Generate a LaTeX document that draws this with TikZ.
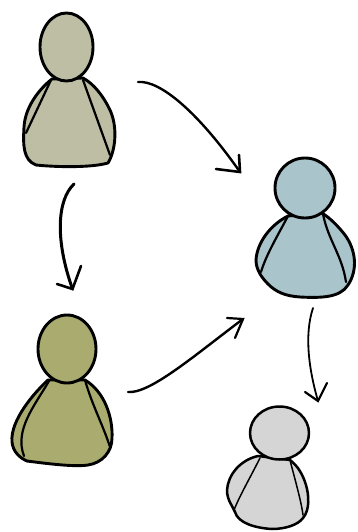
\documentclass[tikz,border=0pt]{standalone}
\usetikzlibrary{shapes.geometric}
\definecolor{pA}{HTML}{BDBEA4}
\definecolor{pB}{HTML}{A9AC6E}
\definecolor{pC}{HTML}{A9C5CB}
\definecolor{pD}{HTML}{D5D5D5}
\tikzset{
  outline/.style={draw=black,line width=2.9pt,line join=round,line cap=round},
  inner/.style={draw=black,line width=2.2pt,line cap=round},
  head/.style={ellipse,outline,inner sep=0pt,minimum width=#1},
  conn/.style={draw=black,line width=2.4pt,line cap=round,line join=round},
  barb/.style={draw=black,line width=2.6pt,line cap=round,line join=miter}
}
\begin{document}
\begin{tikzpicture}[x=1pt,y=-1pt]
\useasboundingbox (0,0) rectangle (357,532);
% person A
\draw[outline,fill=pA] (52,79) .. controls (38,90) and (25,108) .. (24,127)
  .. controls (23,145) and (23,160) .. (36,165)
  .. controls (55,167) and (90,168) .. (108,163)
  .. controls (116,150) and (118,125) .. (109,108)
  .. controls (103,96) and (94,84) .. (83,78) -- cycle;
\draw[inner] (51,80) -- (26,133);
\draw[inner] (83,80) -- (110,155);
\node[head=53pt,minimum height=68pt,fill=pA] (headA) at (66.5,47) {};
% person B
\draw[outline,fill=pB] (48,380) .. controls (35,392) and (10,420) .. (12,442)
  .. controls (13,452) and (20,458) .. (27,461)
  .. controls (50,464) and (75,467) .. (88,465)
  .. controls (102,463) and (112,452) .. (112,438)
  .. controls (113,418) and (105,392) .. (85,380) -- cycle;
\draw[inner] (49,381) .. controls (35,405) and (14,430) .. (24,456);
\draw[inner] (85,380) .. controls (92,405) and (103,425) .. (110,447);
\node[head=58pt,minimum height=68pt,fill=pB] (headB) at (67,349) {};
% person C
\draw[outline,fill=pC] (288,216) .. controls (270,225) and (257,243) .. (256,260)
  .. controls (256,270) and (262,278) .. (268,284)
  .. controls (276,292) and (285,296) .. (300,297)
  .. controls (320,298) and (340,298) .. (348,285)
  .. controls (358,270) and (356,250) .. (345,235)
  .. controls (338,226) and (330,218) .. (322,213) -- cycle;
\draw[inner] (288,216) .. controls (278,235) and (266,255) .. (261,272);
\draw[inner] (323,214) .. controls (328,240) and (342,255) .. (346,282);
\node[head=60pt,minimum height=60pt,fill=pC] (headC) at (305,188) {};
% person D
\draw[outline,line width=2.5pt,fill=pD] (258,456) .. controls (240,460) and (228,475) .. (227,490)
  .. controls (227,500) and (232,505) .. (235,512)
  .. controls (238,523) and (255,528) .. (272,529)
  .. controls (285,529) and (298,525) .. (303,518)
  .. controls (310,510) and (309,495) .. (306,485)
  .. controls (303,475) and (298,466) .. (290,460) -- cycle;
\draw[inner,line width=1.5pt] (260,458) .. controls (250,478) and (240,495) .. (234,510);
\draw[inner,line width=1.5pt] (290,460) .. controls (295,480) and (301,500) .. (303,515);
\node[head=59pt,minimum height=53pt,line width=2.5pt,fill=pD] (headD) at (279.5,433) {};
% connector ends
\coordinate (a1) at (138,82); \coordinate (a2) at (240,172);
\coordinate (a3) at (216,169); \coordinate (a4) at (239,155);
\coordinate (b1) at (74,184); \coordinate (b2) at (72.5,289);
\coordinate (b3) at (57,284); \coordinate (b4) at (81,266);
\coordinate (c1) at (128,392); \coordinate (c2) at (243,319);
\coordinate (c3) at (227,318); \coordinate (c4) at (235,338);
\coordinate (d1) at (313,308); \coordinate (d2) at (318,401);
\coordinate (d3) at (305,392); \coordinate (d4) at (327,383);
% connectors
\draw[conn] (a1) .. controls (160,80) and (198,112) .. (a2);
\draw[barb] (a3) -- (a2) -- (a4);
\draw[conn,line width=3pt] (b1) .. controls (57,200) and (55,240) .. (b2);
\draw[barb] (b3) -- (b2) -- (b4);
\draw[conn] (c1) .. controls (150,394) and (195,355) .. (c2);
\draw[barb,line width=2.2pt] (c3) -- (c2) -- (c4);
\draw[conn,line width=1.8pt] (d1) .. controls (304,335) and (309,370) .. (d2);
\draw[barb,line width=2.2pt] (d3) -- (d2) -- (d4);
\end{tikzpicture}
\end{document}
